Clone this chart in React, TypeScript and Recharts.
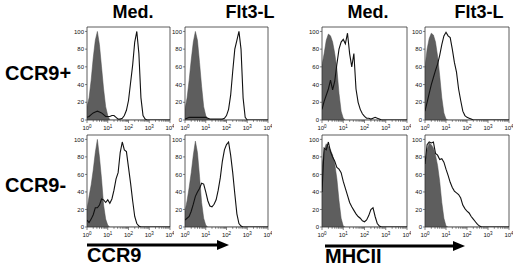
import React from 'react';
import { ComposedChart, Area, Line, XAxis, YAxis, ReferenceArea } from 'recharts';

// log10 fluorescence positions (decades 10^0 .. 10^4)
const LOG_X = [
  0, 0.1, 0.2, 0.3, 0.4, 0.5, 0.6, 0.7, 0.8, 0.9,
  1, 1.1, 1.2, 1.3, 1.4, 1.5, 1.6, 1.7, 1.8, 1.9,
  2, 2.1, 2.2, 2.3, 2.4, 2.5, 2.6, 2.7, 2.8, 2.9,
  3, 3.1, 3.2, 3.3, 3.4, 3.5, 3.6, 3.7, 3.8, 3.9, 4,
];
const Y_TICKS = [0, 20, 40, 60, 80, 100];
const X_MAJOR = [0, 1, 2, 3, 4];
const X_MINOR_FACTORS = [2, 3, 4, 5, 6, 7, 8, 9];

const COL_TITLES = ['Med.', 'Flt3-L', 'Med.', 'Flt3-L'];
const ROW_TITLES = ['CCR9+', 'CCR9-'];
const MARKERS = ['CCR9', 'MHCII'];

// CCR9+ row, CCR9 staining
const ISO_POS_CCR9_MED = [15, 25, 45, 70, 90, 100, 85, 60, 35, 15, 5, 0];
const STAIN_POS_CCR9_MED = [3, 4, 6, 8, 9, 10, 9, 8, 6, 4, 4, 4, 5, 5, 3, 1, 1, 2, 5, 11, 22, 42, 62, 88, 100, 75, 25, 5, 1, 0];
const ISO_POS_CCR9_FLT = [12, 25, 45, 68, 88, 100, 90, 65, 38, 15, 5, 1, 0];
const STAIN_POS_CCR9_FLT = [1, 2, 3, 3, 3, 3, 3, 3, 3, 3, 3, 2, 1, 1, 1, 1, 1, 1, 1, 2, 5, 12, 28, 55, 80, 90, 100, 80, 25, 3, 0];
// CCR9+ row, MHCII staining
const ISO_POS_MHC_MED = [62, 75, 90, 97, 95, 88, 75, 58, 30, 10, 2, 0];
const STAIN_POS_MHC_MED = [12, 21, 28, 35, 45, 34, 44, 63, 80, 88, 91, 86, 98, 75, 60, 75, 35, 20, 12, 7, 4, 2, 2, 1, 2, 3, 2, 1, 0];
const ISO_POS_MHC_FLT = [60, 80, 92, 98, 96, 88, 72, 50, 25, 8, 1, 0];
const STAIN_POS_MHC_FLT = [10, 20, 30, 40, 48, 56, 63, 73, 85, 95, 99, 95, 93, 80, 65, 54, 35, 22, 10, 5, 3, 2, 1, 0];
// CCR9- row, CCR9 staining
const ISO_NEG_CCR9_MED = [20, 35, 48, 65, 85, 100, 80, 55, 25, 9, 2, 0];
const STAIN_NEG_CCR9_MED = [8, 5, 9, 14, 22, 22, 25, 32, 31, 28, 31, 27, 32, 42, 55, 62, 85, 97, 88, 86, 68, 50, 30, 12, 4, 1, 0];
const ISO_NEG_CCR9_FLT = [18, 30, 45, 62, 82, 98, 85, 58, 28, 10, 2, 0];
const STAIN_NEG_CCR9_FLT = [8, 10, 12, 18, 26, 35, 40, 44, 50, 49, 40, 30, 24, 23, 26, 31, 42, 56, 75, 88, 94, 97, 82, 62, 38, 15, 4, 1, 0];
// CCR9- row, MHCII staining
const ISO_NEG_MHC_MED = [70, 88, 95, 92, 88, 82, 72, 55, 30, 10, 1, 0];
const STAIN_NEG_MHC_MED = [40, 90, 88, 97, 86, 80, 75, 68, 66, 62, 52, 44, 36, 28, 23, 19, 15, 12, 10, 7, 6, 8, 13, 20, 22, 12, 4, 1, 0];
const ISO_NEG_MHC_FLT = [72, 88, 96, 94, 90, 82, 70, 52, 28, 10, 1, 0];
const STAIN_NEG_MHC_FLT = [72, 94, 97, 96, 97, 84, 82, 77, 78, 74, 66, 59, 51, 45, 41, 39, 37, 33, 25, 21, 18, 16, 12, 9, 6, 3, 1, 0];

const PANELS = [
  { row: 0, col: 0, iso: ISO_POS_CCR9_MED, stain: STAIN_POS_CCR9_MED },
  { row: 0, col: 1, iso: ISO_POS_CCR9_FLT, stain: STAIN_POS_CCR9_FLT },
  { row: 0, col: 2, iso: ISO_POS_MHC_MED, stain: STAIN_POS_MHC_MED },
  { row: 0, col: 3, iso: ISO_POS_MHC_FLT, stain: STAIN_POS_MHC_FLT },
  { row: 1, col: 0, iso: ISO_NEG_CCR9_MED, stain: STAIN_NEG_CCR9_MED },
  { row: 1, col: 1, iso: ISO_NEG_CCR9_FLT, stain: STAIN_NEG_CCR9_FLT },
  { row: 1, col: 2, iso: ISO_NEG_MHC_MED, stain: STAIN_NEG_MHC_MED },
  { row: 1, col: 3, iso: ISO_NEG_MHC_FLT, stain: STAIN_NEG_MHC_FLT },
];

// layout (plot-area boxes)
const COL_LEFT = [87, 185, 322, 425];
const COL_W = [83, 83, 85, 84];
const ROW_TOP = [27, 135];
const ROW_H = [93, 92];
const PAD_L = 22;
const PAD_T = 4;
const PAD_R = 4;
const AX_H = 14;

const X_TICKS = [
  ...X_MAJOR,
  ...X_MAJOR.slice(0, 4).flatMap((d) => X_MINOR_FACTORS.map((f) => d + Math.log10(f))),
];

const FONT = "Arial, 'Liberation Sans', Helvetica, sans-serif";

function XTick(props: any) {
  const { x, y, payload } = props;
  const v = payload.value as number;
  const major = Math.abs(v - Math.round(v)) < 1e-6;
  return (
    <g>
      <line x1={x} x2={x} y1={y} y2={y + (major ? 3 : 1.8)} stroke="#333" strokeWidth={0.6} />
      {major && (
        <text x={x} y={y + 10} textAnchor="middle" fontSize={6} fill="#111" fontFamily={FONT}>
          10
          <tspan dy={-2.5} fontSize={4.5}>
            {Math.round(v)}
          </tspan>
        </text>
      )}
    </g>
  );
}

function Panel({ iso, stain, row, col }: { iso: number[]; stain: number[]; row: number; col: number }) {
  const data = LOG_X.map((x, i) => ({ x, iso: iso[i] ?? 0, stain: stain[i] ?? 0 }));
  const pw = COL_W[col];
  const ph = ROW_H[row];
  return (
    <div style={{ position: 'absolute', left: COL_LEFT[col] - PAD_L, top: ROW_TOP[row] - PAD_T }}>
      <ComposedChart
        width={pw + PAD_L + PAD_R}
        height={ph + PAD_T + AX_H}
        data={data}
        margin={{ top: PAD_T, right: PAD_R, bottom: 0, left: 0 }}
      >
        <XAxis
          dataKey="x"
          type="number"
          domain={[0, 4]}
          ticks={X_TICKS}
          interval={0}
          tick={<XTick />}
          tickLine={false}
          axisLine={false}
          tickSize={0}
          tickMargin={0}
          height={AX_H}
          allowDataOverflow
        />
        <YAxis
          type="number"
          domain={[0, 105]}
          ticks={Y_TICKS}
          interval={0}
          width={PAD_L}
          tickSize={2}
          tickMargin={1}
          tick={{ fontSize: 6, fill: '#111', fontFamily: FONT }}
          tickLine={{ stroke: '#333', strokeWidth: 0.6 }}
          axisLine={false}
          allowDataOverflow
        />
        <Area
          dataKey="iso"
          type="linear"
          fill="#5e5e5e"
          fillOpacity={1}
          stroke="#4a4a4a"
          strokeWidth={0.5}
          dot={false}
          activeDot={false}
          isAnimationActive={false}
        />
        <Line
          dataKey="stain"
          type="linear"
          stroke="#111"
          strokeWidth={1.1}
          dot={false}
          activeDot={false}
          isAnimationActive={false}
        />
        <ReferenceArea x1={0} x2={4} y1={0} y2={105} fill="none" stroke="#333" strokeWidth={0.8} ifOverflow="visible" />
      </ComposedChart>
    </div>
  );
}

export default function App() {
  const colCenters = [133, 250, 368, 479];
  return (
    <div style={{ position: 'absolute', left: 0, top: 0, width: 520, height: 266, background: '#fff', fontFamily: FONT }}>
      {PANELS.map((p, i) => (
        <Panel key={i} {...p} />
      ))}
      <svg width={520} height={266} style={{ position: 'absolute', left: 0, top: 0, pointerEvents: 'none' }}>
        {COL_TITLES.map((t, i) => (
          <text key={t + i} x={colCenters[i]} y={18} textAnchor="middle" fontSize={18} fontWeight="bold" fontFamily={FONT} fill="#000">
            {t}
          </text>
        ))}
        <text x={5} y={80} fontSize={20} fontWeight="bold" fontFamily={FONT} fill="#000">{ROW_TITLES[0]}</text>
        <text x={5} y={192} fontSize={20} fontWeight="bold" fontFamily={FONT} fill="#000">{ROW_TITLES[1]}</text>
        <line x1={87} x2={220} y1={245} y2={245} stroke="#000" strokeWidth={3} />
        <polygon points="217,240 229,245 217,250" fill="#000" />
        <text x={87} y={262} fontSize={20} fontWeight="bold" fontFamily={FONT} fill="#000">{MARKERS[0]}</text>
        <line x1={325} x2={456} y1={246} y2={246} stroke="#000" strokeWidth={3} />
        <polygon points="453,241 465,246 453,251" fill="#000" />
        <text x={325} y={263} fontSize={20} fontWeight="bold" fontFamily={FONT} fill="#000">{MARKERS[1]}</text>
      </svg>
    </div>
  );
}
